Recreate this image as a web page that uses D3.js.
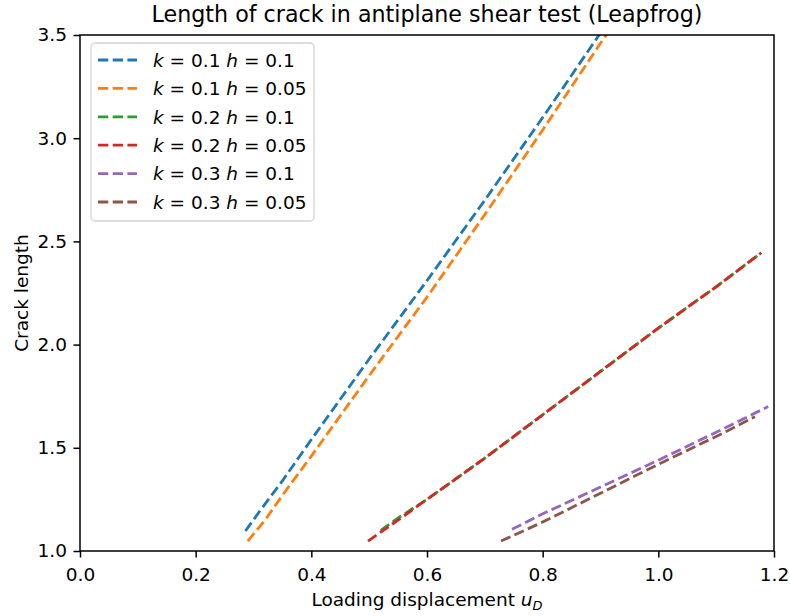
<!DOCTYPE html>
<html>
<head>
<meta charset="utf-8">
<script src="https://cdn.jsdelivr.net/npm/d3@7"></script>
<style>
  body { margin: 0; background: #fff; }
  text { font-family: "DejaVu Sans", sans-serif; fill: #000; }
</style>
</head>
<body>
<div id="chart"></div>
<script>
// series
var xBlue = [0.286, 0.31, 0.35, 0.40, 0.50, 0.60, 0.70, 0.80, 0.90, 0.95];
var yBlue = [1.097, 1.19, 1.34, 1.54, 1.93, 2.31, 2.70, 3.10, 3.51, 3.71];
var xOrange = [0.290, 0.32, 0.35, 0.40, 0.50, 0.60, 0.70, 0.80, 0.90, 0.95];
var yOrange = [1.048, 1.15, 1.27, 1.46, 1.85, 2.23, 2.63, 3.04, 3.46, 3.66];
var xGreen = [0.52, 0.55, 0.60, 0.70, 0.80, 0.90, 1.00, 1.10, 1.178];
var yGreen = [1.10, 1.16, 1.25, 1.45, 1.66, 1.87, 2.08, 2.28, 2.445];
var xRed = [0.498, 0.55, 0.60, 0.70, 0.80, 0.90, 1.00, 1.10, 1.178];
var yRed = [1.048, 1.15, 1.25, 1.45, 1.66, 1.87, 2.08, 2.28, 2.445];
var xPurple = [0.747, 0.80, 0.90, 1.00, 1.10, 1.19];
var yPurple = [1.105, 1.18, 1.31, 1.44, 1.575, 1.70];
var xBrown = [0.728, 0.80, 0.90, 1.00, 1.10, 1.167];
var yBrown = [1.048, 1.14, 1.28, 1.42, 1.555, 1.65];

var seriesK = ["0.1", "0.1", "0.2", "0.2", "0.3", "0.3"];
var seriesH = ["0.1", "0.05", "0.1", "0.05", "0.1", "0.05"];
var colors = ["#1f77b4", "#ff7f0e", "#2ca02c", "#d62728", "#9467bd", "#8c564b"];
var xTicks = [0.0, 0.2, 0.4, 0.6, 0.8, 1.0, 1.2];
var yTicks = [1.0, 1.5, 2.0, 2.5, 3.0, 3.5];

var allX = [xBlue, xOrange, xGreen, xRed, xPurple, xBrown];
var allY = [yBlue, yOrange, yGreen, yRed, yPurple, yBrown];

var margin = { top: 35, right: 16, bottom: 65, left: 80 },
    width = 790 - margin.left - margin.right,
    height = 616 - margin.top - margin.bottom;

var fontSize = "18.5px";
var dash = "10.3,4.4";

var svg = d3
    .select("#chart")
    .append("svg")
    .attr("width", 790)
    .attr("height", 616);

var g = svg.append("g")
    .attr("transform", "translate(" + margin.left + "," + margin.top + ")");

var x = d3.scaleLinear().domain([0, 1.2]).range([0, width]);
var y = d3.scaleLinear().domain([1.0, 3.5]).range([height, 0]);

g.append("clipPath")
    .attr("id", "plotclip")
    .append("rect")
    .attr("width", width)
    .attr("height", height);

var line = d3.line()
    .x(function (d) { return x(d[0]); })
    .y(function (d) { return y(d[1]); });

var plot = g.append("g").attr("clip-path", "url(#plotclip)");

allX.forEach(function (xs, i) {
    var pts = xs.map(function (v, j) { return [v, allY[i][j]]; });
    plot.append("path")
        .datum(pts)
        .attr("d", line)
        .attr("fill", "none")
        .attr("stroke", colors[i])
        .attr("stroke-width", 2.8)
        .attr("stroke-dasharray", dash);
});

// axes
var xAxis = g.append("g")
    .attr("transform", "translate(0," + height + ")")
    .call(d3.axisBottom(x).tickValues(xTicks).tickFormat(d3.format(".1f")).tickSizeOuter(0).tickSize(6.5).tickPadding(10));
var yAxis = g.append("g")
    .call(d3.axisLeft(y).tickValues(yTicks).tickFormat(d3.format(".1f")).tickSizeOuter(0).tickSize(6.5).tickPadding(6.5));

[xAxis, yAxis].forEach(function (a) {
    a.select(".domain").remove();
    a.selectAll(".tick line").attr("stroke", "#000").attr("stroke-width", 1.5);
    a.selectAll(".tick text").style("font-size", fontSize).style("font-family", "DejaVu Sans");
});

// frame
g.append("rect")
    .attr("width", width)
    .attr("height", height)
    .attr("fill", "none")
    .attr("stroke", "#000")
    .attr("stroke-width", 1.5);

// title and labels
svg.append("text")
    .attr("x", margin.left + width / 2)
    .attr("y", 22)
    .attr("text-anchor", "middle")
    .style("font-size", "22.2px")
    .text("Length of crack in antiplane shear test (Leapfrog)");

var xl = svg.append("text")
    .attr("x", margin.left + width / 2)
    .attr("y", 606)
    .attr("text-anchor", "middle")
    .style("font-size", fontSize);
xl.append("tspan").text("Loading displacement ");
xl.append("tspan").style("font-style", "italic").text("u");
xl.append("tspan").style("font-style", "italic").style("font-size", "13px").attr("dy", 4).text("D");

svg.append("text")
    .attr("transform", "translate(28," + (margin.top + height / 2) + ") rotate(-90)")
    .attr("text-anchor", "middle")
    .style("font-size", fontSize)
    .text("Crack length");

// legend
var legend = g.append("g").attr("transform", "translate(11,8)");
legend.append("rect")
    .attr("width", 223)
    .attr("height", 178)
    .attr("rx", 4)
    .attr("fill", "#fff")
    .attr("fill-opacity", 0.8)
    .attr("stroke", "#d5d5d5")
    .attr("stroke-width", 1.3);

seriesK.forEach(function (k, i) {
    var row = legend.append("g").attr("transform", "translate(0," + (17 + i * 28.4) + ")");
    row.append("line")
        .attr("x1", 7).attr("x2", 46)
        .attr("y1", 0).attr("y2", 0)
        .attr("stroke", colors[i])
        .attr("stroke-width", 2.8)
        .attr("stroke-dasharray", dash);
    var t = row.append("text")
        .attr("x", 62)
        .attr("y", 6.7)
        .style("font-size", fontSize);
    t.append("tspan").style("font-style", "italic").text("k");
    t.append("tspan").text(" = " + k + " ");
    t.append("tspan").style("font-style", "italic").text("h");
    t.append("tspan").text(" = " + seriesH[i]);
});
</script>
</body>
</html>
